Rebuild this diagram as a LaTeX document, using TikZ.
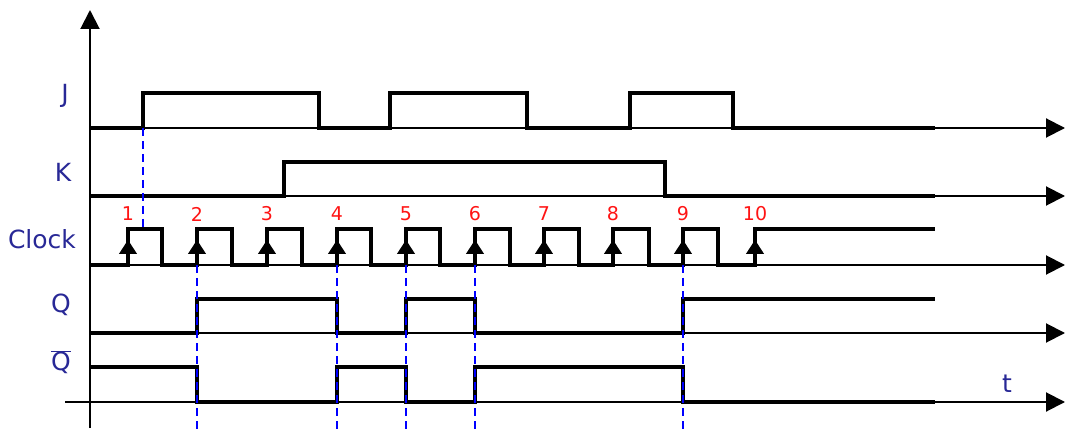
\documentclass[tikz,border=0pt]{standalone}
\usepackage{fontspec}
\setmainfont{DejaVu Sans}
\usepackage{tikz}
\usetikzlibrary{arrows.meta}
\definecolor{lblblue}{RGB}{40,40,150}
\definecolor{numred}{RGB}{255,20,20}
\definecolor{guideblue}{RGB}{0,0,255}

\begin{document}
\begin{tikzpicture}[x=1pt,y=-1pt,>={Triangle[length=19pt,width=19pt]},
		axis/.style={line width=2pt,->},
		sig/.style={line width=3.8pt,line join=miter},
		guide/.style={guideblue,line width=1.4pt,dash pattern=on 8pt off 5pt},
		lbl/.style={lblblue,font=\fontsize{25}{25}\selectfont},
		num/.style={numred,font=\fontsize{19}{19}\selectfont},
		edgetip/.style={line width=1pt,-{Triangle[length=14pt,width=18pt]}}]
		\useasboundingbox (0,0) rectangle (1065,430);

			% axes
			\coordinate (o) at (90,428);
			\coordinate (top) at (90,10);
			\draw[axis] (o) -- (top);
			\foreach \y in {128,196,265,333}
				\draw[axis] (90,\y) -- (1065,\y);
			\draw[axis] (65,402) -- (1065,402);

			% labels
			\node[lbl] (lJ) at (65,96) {J};
			\node[lbl] (lK) at (63,172) {K};
			\node[lbl] (lClk) at (42,239) {Clock};
			\node[lbl] (lQ) at (61,305) {Q};
			\node[lbl] (lQb) at (61,362) {$\overline{\mbox{Q}}$};
			\node[lbl] (lt) at (1007,384) {t};

			% J and K
			\draw[sig] (90,128) -- (143,128) -- (143,93) -- (319,93) -- (319,128)
				-- (390,128) -- (390,93) -- (527,93) -- (527,128)
				-- (630,128) -- (630,93) -- (733,93) -- (733,128) -- (935,128);
			\draw[sig] (90,196) -- (284,196) -- (284,162) -- (665,162) -- (665,196) -- (935,196);

			% clock
			\draw[sig] (90,265)
				\foreach \r/\f in {128/162,197/232,267/302,337/371,406/440,475/510,544/579,613/649,683/718}
					{ -- (\r,265) -- (\r,229) -- (\f,229) -- (\f,265) }
				-- (755,265) -- (755,229) -- (935,229);
			\foreach \r [count=\i] in {128,197,267,337,406,475,544,613,683,755} {
				\draw[edgetip] (\r,265) -- (\r,240);
				\node[num] (n\i) at (\r,214) {\i};
			}

			% Q and Q bar
			\draw[sig] (90,333) -- (197,333) -- (197,299) -- (337,299) -- (337,333)
				-- (406,333) -- (406,299) -- (475,299) -- (475,333)
				-- (683,333) -- (683,299) -- (935,299);
			\draw[sig] (90,367) -- (197,367) -- (197,402) -- (337,402) -- (337,367)
				-- (406,367) -- (406,402) -- (475,402) -- (475,367)
				-- (683,367) -- (683,402) -- (935,402);

			% guides
			\draw[guide] (143,128) -- (143,229);
			\foreach \x in {197,337,406,475,683}
				\draw[guide] (\x,265) -- (\x,430);

\end{tikzpicture}
\end{document}
